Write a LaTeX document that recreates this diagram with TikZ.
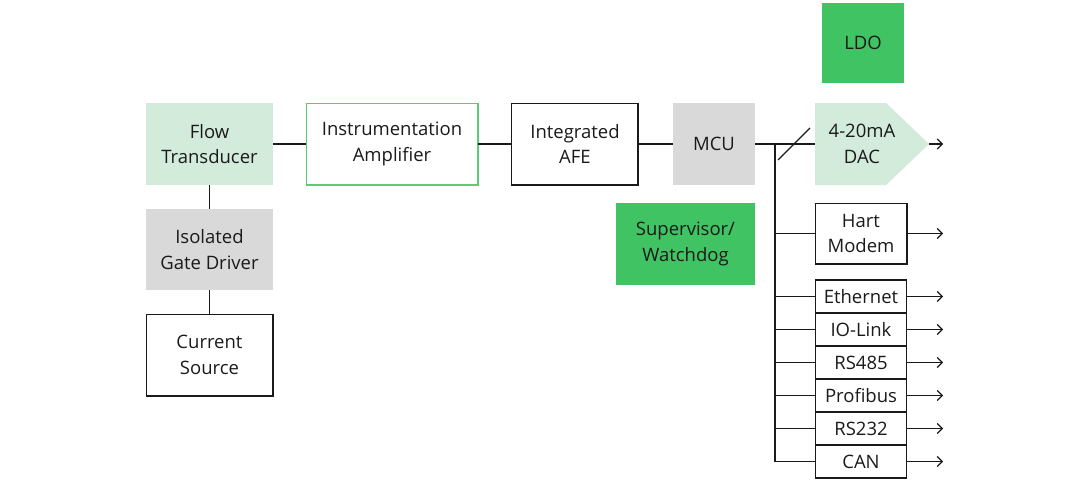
\documentclass[tikz,border=0pt]{standalone}
\usepackage{fontspec}
\setmainfont{Open Sans}
\usetikzlibrary{arrows.meta}
\definecolor{lgreen}{HTML}{D3EBDA}
\definecolor{dgreen}{HTML}{40C463}
\definecolor{bgreen}{HTML}{5CCB78}
\definecolor{lgray}{HTML}{D9D9D9}
\definecolor{ink}{HTML}{1A1A1A}
\begin{document}
\begin{tikzpicture}[x=1pt,y=-1pt,
  every node/.style={font=\fontsize{18.5}{25.5}\selectfont, text=ink, align=center, inner sep=0pt},
  wire/.style={draw=ink, line width=1.1pt},
  arr/.style={wire, -{Straight Barb[length=5pt,width=10pt]}}]
\useasboundingbox (0,0) rectangle (1088,480);
% boxes
\fill[lgreen] (146,103) rectangle (273,185);
\node (ft) at (209.5,144) {Flow\\Transducer};
\draw[bgreen, line width=1.3pt] (306.5,103.5) rectangle (478,185);
\node (ia) at (392,144) {Instrumentation\\Amplifier};
\draw[ink, line width=1.1pt] (511.5,103.5) rectangle (638,185);
\node (afe) at (575,144) {Integrated\\AFE};
\fill[lgray] (673,103) rectangle (755,185);
\node (mcu) at (714,144) {MCU};
\fill[dgreen] (822,3) rectangle (904,83);
\node (ldo) at (863,43) {LDO};
\fill[lgreen] (815,103) -- (886,103) -- (929,144) -- (886,185) -- (815,185) -- cycle;
\node (dac) at (862,144) {4-20mA\\DAC};
\fill[dgreen] (616,203) rectangle (755,285);
\node (sw) at (685.5,244) {Supervisor/\\Watchdog};
\draw[ink, line width=1.1pt] (815.5,203.5) rectangle (907,264);
\node (hart) at (861,233.5) {Hart\\Modem};
\fill[lgray] (146,209) rectangle (273,290);
\node (igd) at (209.5,249.5) {Isolated\\Gate Driver};
\draw[ink, line width=1.1pt] (146.5,314.5) rectangle (273,396);
\node (cs) at (209.5,355) {Current\\Source};
% stack
\foreach \n/\t [count=\i from 0] in {eth/Ethernet,io/IO-Link,rs4/RS485,pb/Profibus,rs2/RS232,can/CAN}{
  \draw[ink, line width=1.1pt] (815.5,280+33*\i) rectangle (906.5,313+33*\i);
  \node (\n) at (861,296.5+33*\i) {\t};
  \coordinate (\n o) at (943,296.5+33*\i);
  \coordinate (\n b) at (775,296.5+33*\i);
}
% wires
\draw[wire] (273,144) -- (306,144);
\draw[wire] (478,144) -- (511,144);
\draw[wire] (638,144) -- (673,144);
\draw[wire] (755,144) -- (815,144);
\draw[wire] (778,160) -- (810,128);
\draw[wire] (209.5,185) -- (209.5,209);
\draw[wire] (209.5,290) -- (209.5,314);
\coordinate (bustop) at (775,144);
\draw[wire] (bustop) -- (canb);
\draw[wire] (775,233.5) -- (815.5,233.5);
\coordinate (dacout) at (943,144);
\coordinate (hartout) at (943,233.5);
\draw[arr] (929,144) -- (dacout);
\draw[arr] (907,233.5) -- (hartout);
\foreach \n in {eth,io,rs4,pb,rs2,can}{
  \draw[wire] (\n b) -- (815.5,0 |- \n b);
  \draw[arr] (906.5,0 |- \n b) -- (\n o);
}
\end{tikzpicture}
\end{document}
